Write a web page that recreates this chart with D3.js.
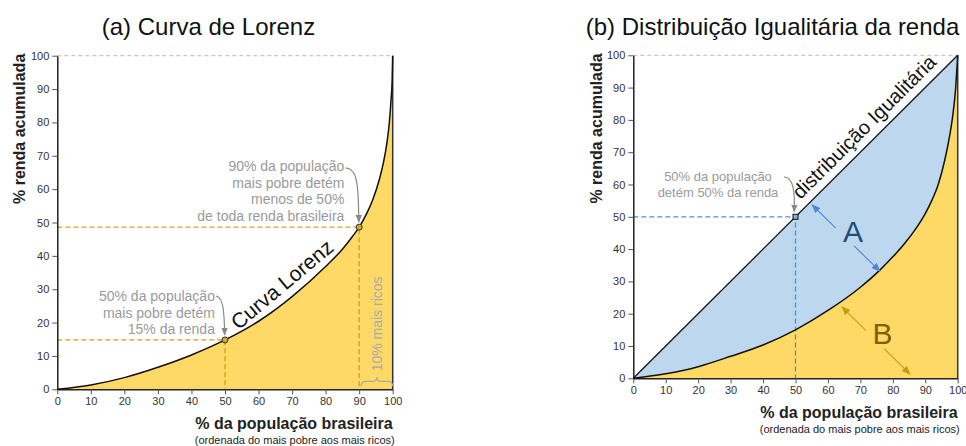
<!DOCTYPE html>
<html>
<head>
<meta charset="utf-8">
<script src="https://cdn.jsdelivr.net/npm/d3@7"></script>
<style>
  body { margin: 0; background: #fff; }
  svg { font-family: Arial, "Liberation Sans", sans-serif; }
  .tick text { fill: #333; font-size: 11px; }
  .tick line { stroke: #555; }
  .domain { stroke: #222; stroke-width: 1.5px; }
</style>
</head>
<body>
<svg id="svg" width="966" height="446"></svg>
<script>
// ticks of both axes
var ticks = [0, 10, 20, 30, 40, 50, 60, 70, 80, 90, 100];

// (a) Lorenz curve, % population vs % accumulated income
var popA   = [0, 10, 20, 30, 40, 50, 60, 70, 80, 85, 88, 90, 92, 94, 96, 97.2, 98.3, 99, 99.5, 99.85, 100];
var rendaA = [0, 1.3, 3.5, 6.6, 10.3, 14.8, 20.4, 27.8, 36.8, 42, 45.8, 48.6, 52.2, 56.7, 62.8, 67.8, 74, 80, 86.7, 93, 100];

// (b) Lorenz curve drawn against the equality line
var popB   = [0, 10, 20, 30, 40, 50, 60, 70, 76, 80, 84, 87, 90, 92, 94, 96, 97.5, 98.5, 99.3, 100];
var rendaB = [0, 1.4, 3.6, 6.8, 10.3, 15, 21, 28.2, 33.5, 37.6, 42.2, 46.2, 51, 55, 60, 67.5, 75, 81.5, 89, 100];

// highlighted points
var marksA = [[50, 14.8], [90, 48.6]];
var markB = [50, 50];

var svg = d3.select("#svg");
var yellow = "#ffd966",
    blue = "#bdd7ee",
    grey = "#9a9a9a";

var defs = svg.append("defs");
function arrowHead(id, color, size) {
  defs.append("marker")
      .attr("id", id)
      .attr("viewBox", "0 0 10 10")
      .attr("refX", 9).attr("refY", 5)
      .attr("markerWidth", size).attr("markerHeight", size)
      .attr("orient", "auto-start-reverse")
      .attr("markerUnits", "userSpaceOnUse")
    .append("path")
      .attr("d", "M0,1L10,5L0,9z")
      .attr("fill", color);
}
arrowHead("arrGrey", "#888", 8);
arrowHead("arrBlue", "#4f83d6", 9);
arrowHead("arrGold", "#c99a12", 9);

function panel(x0, x1, y0, y1) {
  var x = d3.scaleLinear().domain([0, 100]).range([x0, x1]);
  var y = d3.scaleLinear().domain([0, 100]).range([y0, y1]);
  return { x: x, y: y };
}

function frame(g, s, xLabelY, subY, yLabelX) {
  var x = s.x, y = s.y;
  // top dashed reference line
  g.append("line")
      .attr("x1", x(0)).attr("x2", x(100))
      .attr("y1", y(100)).attr("y2", y(100))
      .attr("stroke", "#bbb").attr("stroke-dasharray", "4,3");
  // right edge
  g.append("line")
      .attr("x1", x(100)).attr("x2", x(100))
      .attr("y1", y(0)).attr("y2", y(100))
      .attr("stroke", "#333").attr("stroke-width", 1.5);

  g.append("g")
      .attr("transform", "translate(0," + y(0) + ")")
      .call(d3.axisBottom(x).tickValues(ticks).tickSize(5).tickSizeOuter(0));
  g.append("g")
      .attr("transform", "translate(" + x(0) + ",0)")
      .call(d3.axisLeft(y).tickValues(ticks).tickSize(5).tickSizeOuter(0));

  g.append("text")
      .attr("x", x(100)).attr("y", xLabelY)
      .attr("text-anchor", "end")
      .attr("font-size", 16).attr("font-weight", "bold").attr("fill", "#222")
      .text("% da população brasileira");
  g.append("text")
      .attr("x", x(100) + 2).attr("y", subY)
      .attr("text-anchor", "end")
      .attr("font-size", 11).attr("fill", "#222")
      .text("(ordenada do mais pobre aos mais ricos)");
  g.append("text")
      .attr("transform", "translate(" + yLabelX + "," + (y(100) - 2) + ")rotate(-90)")
      .attr("text-anchor", "end")
      .attr("font-size", 16).attr("font-weight", "bold").attr("fill", "#222")
      .text("% renda acumulada");
}

function lines(g, arr, xp, yp, anchor, size) {
  arr.forEach(function(t, i) {
    g.append("text")
        .attr("x", xp).attr("y", yp + i * (size + 2.7))
        .attr("text-anchor", anchor)
        .attr("font-size", size).attr("fill", grey)
        .text(t);
  });
}

/* ---------- (a) ---------- */
var a = panel(57.3, 392.7, 389.3, 55.7);
var ga = svg.append("g");
var dataA = popA.map(function(p, i) { return [p, rendaA[i]]; });

ga.append("path")
    .datum(dataA)
    .attr("fill", yellow)
    .attr("d", d3.area()
        .x(function(d) { return a.x(d[0]); })
        .y0(a.y(0))
        .y1(function(d) { return a.y(d[1]); })
        .curve(d3.curveMonotoneX));

marksA.forEach(function(m) {
  ga.append("path")
      .attr("d", "M" + a.x(0) + "," + a.y(m[1]) + "H" + a.x(m[0]) + "V" + a.y(0))
      .attr("fill", "none")
      .attr("stroke", "#d0a21c").attr("stroke-width", 1.3)
      .attr("stroke-dasharray", "5,3");
});

frame(ga, a, 429, 444, 25);

ga.append("path")
    .datum(dataA)
    .attr("fill", "none")
    .attr("stroke", "#111").attr("stroke-width", 1.5)
    .attr("d", d3.line()
        .x(function(d) { return a.x(d[0]); })
        .y(function(d) { return a.y(d[1]); })
        .curve(d3.curveMonotoneX));

ga.selectAll("circle.mk")
  .data(marksA)
  .enter().append("circle")
    .attr("class", "mk")
    .attr("cx", function(d) { return a.x(d[0]); })
    .attr("cy", function(d) { return a.y(d[1]); })
    .attr("r", 3)
    .attr("fill", "#d9a81e").attr("stroke", "#333").attr("stroke-width", 1);

ga.append("text")
    .attr("transform", "translate(" + (a.x(69) - 2) + "," + (a.y(28) - 6) + ")rotate(-40)")
    .attr("text-anchor", "middle")
    .attr("font-size", 21).attr("fill", "#111")
    .text("Curva Lorenz");

lines(ga, ["90% da população", "mais pobre detém", "menos de 50%", "de toda renda brasileira"],
      a.x(85.6), 171, "end", 14);
lines(ga, ["50% da população", "mais pobre detém", "15% da renda"],
      a.x(47), 301, "end", 14);

ga.append("path")
    .attr("d", "M" + (a.x(85.6) + 1) + "," + 168 +
               "C" + (a.x(89.5)) + "," + 168 + " " + (a.x(89.8)) + "," + 185 + " " + a.x(89.9) + "," + (a.y(48.6) - 5))
    .attr("fill", "none").attr("stroke", "#888").attr("stroke-width", 1.2)
    .attr("marker-end", "url(#arrGrey)");
ga.append("path")
    .attr("d", "M" + (a.x(47) + 1) + "," + 296 +
               "C" + a.x(49.5) + "," + 297 + " " + a.x(49.8) + "," + 312 + " " + a.x(49.9) + "," + (a.y(14.8) - 5))
    .attr("fill", "none").attr("stroke", "#888").attr("stroke-width", 1.2)
    .attr("marker-end", "url(#arrGrey)");

// brace over the richest 10%
var bx0 = a.x(90.6), bx1 = a.x(100), bm = (bx0 + bx1) / 2, by = a.y(0) - 3;
ga.append("path")
    .attr("d", "M" + bx0 + "," + by + "q0,-5 5,-5H" + (bm - 4) + "q4,0 4,-4q0,4 4,4H" + (bx1 - 5) + "q5,0 5,5")
    .attr("fill", "none").attr("stroke", "#aaa").attr("stroke-width", 1.3);
ga.append("text")
    .attr("transform", "translate(" + a.x(96.8) + "," + a.y(19.6) + ")rotate(-90)")
    .attr("text-anchor", "middle")
    .attr("font-size", 14).attr("fill", "#aaa")
    .text("10% mais ricos");

ga.append("text")
    .attr("x", 208.5).attr("y", 35)
    .attr("text-anchor", "middle")
    .attr("font-size", 24).attr("fill", "#111")
    .text("(a) Curva de Lorenz");

/* ---------- (b) ---------- */
var b = panel(633.3, 957.7, 378.3, 55.3);
var gb = svg.append("g");
var dataB = popB.map(function(p, i) { return [p, rendaB[i]]; });

gb.append("path")
    .datum(dataB)
    .attr("fill", blue)
    .attr("d", d3.area()
        .x(function(d) { return b.x(d[0]); })
        .y0(function(d) { return b.y(d[1]); })
        .y1(function(d) { return b.y(d[0]); })
        .curve(d3.curveMonotoneX));
gb.append("path")
    .datum(dataB)
    .attr("fill", yellow)
    .attr("d", d3.area()
        .x(function(d) { return b.x(d[0]); })
        .y0(b.y(0))
        .y1(function(d) { return b.y(d[1]); })
        .curve(d3.curveMonotoneX));

gb.append("path")
    .attr("d", "M" + b.x(0) + "," + b.y(markB[1]) + "H" + b.x(markB[0]) + "V" + b.y(0))
    .attr("fill", "none")
    .attr("stroke", "#4d8fd6").attr("stroke-width", 1.3)
    .attr("stroke-dasharray", "5,3");

frame(gb, b, 418, 433, 602);

gb.append("line")
    .attr("x1", b.x(0)).attr("y1", b.y(0))
    .attr("x2", b.x(100)).attr("y2", b.y(100))
    .attr("stroke", "#111").attr("stroke-width", 1.3);
gb.append("path")
    .datum(dataB)
    .attr("fill", "none")
    .attr("stroke", "#111").attr("stroke-width", 1.5)
    .attr("d", d3.line()
        .x(function(d) { return b.x(d[0]); })
        .y(function(d) { return b.y(d[1]); })
        .curve(d3.curveMonotoneX));

gb.append("rect")
    .attr("x", b.x(markB[0]) - 2.5).attr("y", b.y(markB[1]) - 2.5)
    .attr("width", 5).attr("height", 5)
    .attr("fill", "#7fb0e0").attr("stroke", "#111").attr("stroke-width", 1);

gb.append("text")
    .attr("transform", "translate(" + (b.x(74.5) - 6) + "," + (b.y(74.5) - 6) + ")rotate(-44.9)")
    .attr("text-anchor", "middle")
    .attr("font-size", 20).attr("fill", "#111")
    .text("distribuição Igualitária");

lines(gb, ["50% da população", "detém 50% da renda"], 718, 181, "middle", 13);
gb.append("path")
    .attr("d", "M" + 784 + "," + 177 +
               "C" + 793 + "," + 177 + " " + 795 + "," + 190 + " " + b.x(49.6) + "," + (b.y(50) - 5))
    .attr("fill", "none").attr("stroke", "#888").attr("stroke-width", 1.2)
    .attr("marker-end", "url(#arrGrey)");

// A and B labels with double arrows
function letterArrow(p0, p1, letter, at, colorLine, colorText, marker) {
  var x0 = b.x(p0[0]), y0 = b.y(p0[1]), x1 = b.x(p1[0]), y1 = b.y(p1[1]);
  var f1 = 0.35, f2 = 0.62;
  gb.append("line")
      .attr("x1", x0 + (x1 - x0) * f1).attr("y1", y0 + (y1 - y0) * f1)
      .attr("x2", x0).attr("y2", y0)
      .attr("stroke", colorLine).attr("stroke-width", 1.1)
      .attr("marker-end", "url(#" + marker + ")");
  gb.append("line")
      .attr("x1", x0 + (x1 - x0) * f2).attr("y1", y0 + (y1 - y0) * f2)
      .attr("x2", x1).attr("y2", y1)
      .attr("stroke", colorLine).attr("stroke-width", 1.1)
      .attr("marker-end", "url(#" + marker + ")");
  gb.append("text")
      .attr("x", b.x(at[0])).attr("y", b.y(at[1]))
      .attr("text-anchor", "middle")
      .attr("font-size", 30).attr("fill", colorText)
      .text(letter);
}
letterArrow([55.1, 53.7], [76, 33.2], "A", [67.7, 42.3], "#4f83d6", "#1f4e79", "arrBlue");
letterArrow([64.3, 22.1], [85.3, 1.3], "B", [76.8, 10.6], "#c99a12", "#7f6000", "arrGold");

gb.append("text")
    .attr("x", 772.5).attr("y", 35)
    .attr("text-anchor", "middle")
    .attr("font-size", 24).attr("fill", "#111")
    .text("(b) Distribuição Igualitária da renda");
</script>
</body>
</html>
